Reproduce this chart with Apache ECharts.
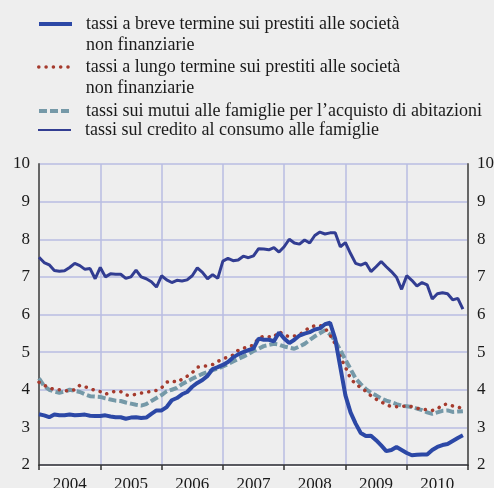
<!DOCTYPE html>
<html>
<head>
<meta charset="utf-8">
<script src="https://cdn.jsdelivr.net/npm/echarts@6/dist/echarts.min.js"></script>
<style>
  html, body { margin: 0; padding: 0; background: #eeeeee; }
  #chart { width: 494px; height: 488px; }
</style>
</head>
<body>
<div id="chart"></div>
<script>
  // anni sull'asse orizzontale (dati mensili gen 2004 - dic 2010)
  var years = ['2004', '2005', '2006', '2007', '2008', '2009', '2010'];

  var breve = [3.35, 3.32, 3.27, 3.34, 3.32, 3.32, 3.34, 3.32, 3.33, 3.34, 3.31, 3.30,
    3.30, 3.32, 3.29, 3.27, 3.27, 3.23, 3.26, 3.27, 3.25, 3.26, 3.36, 3.45,
    3.45, 3.54, 3.72, 3.78, 3.88, 3.94, 4.08, 4.18, 4.26, 4.37, 4.55, 4.60,
    4.66, 4.74, 4.86, 4.94, 5.00, 5.05, 5.10, 5.36, 5.33, 5.33, 5.29, 5.52,
    5.36, 5.24, 5.33, 5.44, 5.49, 5.53, 5.60, 5.63, 5.74, 5.78, 5.35, 4.60,
    3.85, 3.40, 3.10, 2.85, 2.77, 2.78, 2.66, 2.52, 2.37, 2.40, 2.48, 2.40,
    2.32, 2.26, 2.27, 2.28, 2.28, 2.40, 2.48, 2.53, 2.56, 2.64, 2.72, 2.79];

  var lungo = [4.20, 4.12, 4.05, 4.01, 4.00, 3.98, 3.97, 4.00, 4.12, 4.08, 4.03, 3.98,
    3.95, 3.88, 3.93, 3.96, 3.95, 3.86, 3.85, 3.88, 3.91, 3.93, 3.96, 3.98,
    4.05, 4.20, 4.24, 4.20, 4.28, 4.36, 4.45, 4.60, 4.62, 4.64, 4.67, 4.75,
    4.82, 4.87, 4.92, 5.05, 5.10, 5.15, 5.18, 5.38, 5.42, 5.41, 5.40, 5.55,
    5.46, 5.41, 5.43, 5.46, 5.56, 5.66, 5.70, 5.71, 5.64, 5.45, 5.22, 4.86,
    4.60, 4.30, 4.15, 4.06, 3.96, 3.84, 3.75, 3.68, 3.60, 3.55, 3.55, 3.56,
    3.57, 3.55, 3.51, 3.48, 3.47, 3.45, 3.49, 3.60, 3.62, 3.57, 3.54, 3.50];

  var mutui = [4.30, 4.10, 4.00, 3.95, 3.92, 3.95, 4.00, 3.97, 3.94, 3.88, 3.83, 3.82,
    3.81, 3.77, 3.74, 3.71, 3.70, 3.66, 3.63, 3.60, 3.58, 3.62, 3.70, 3.78,
    3.86, 3.96, 4.00, 4.05, 4.15, 4.22, 4.29, 4.36, 4.42, 4.47, 4.52, 4.56,
    4.62, 4.68, 4.75, 4.82, 4.88, 4.95, 5.03, 5.09, 5.16, 5.19, 5.22, 5.20,
    5.15, 5.12, 5.09, 5.15, 5.22, 5.32, 5.42, 5.50, 5.58, 5.47, 5.30, 5.05,
    4.80, 4.55, 4.30, 4.15, 4.02, 3.92, 3.85, 3.77, 3.71, 3.67, 3.62, 3.58,
    3.56, 3.54, 3.50, 3.46, 3.40, 3.36, 3.40, 3.44, 3.45, 3.41, 3.42, 3.43];

  var consumo = [7.52, 7.38, 7.32, 7.17, 7.15, 7.16, 7.25, 7.36, 7.30, 7.20, 7.22, 6.95,
    7.25, 7.00, 7.08, 7.07, 7.07, 6.96, 7.00, 7.18, 7.00, 6.95, 6.87, 6.73,
    7.03, 6.92, 6.85, 6.91, 6.89, 6.92, 7.03, 7.24, 7.12, 6.95, 7.06, 6.96,
    7.42, 7.49, 7.43, 7.45, 7.55, 7.51, 7.56, 7.75, 7.74, 7.72, 7.78, 7.66,
    7.80, 8.00, 7.90, 7.87, 7.98, 7.90, 8.10, 8.19, 8.14, 8.17, 8.17, 7.80,
    7.91, 7.62, 7.36, 7.31, 7.37, 7.14, 7.27, 7.41, 7.27, 7.14, 6.99, 6.67,
    7.03, 6.91, 6.76, 6.85, 6.79, 6.41, 6.55, 6.58, 6.55, 6.39, 6.43, 6.14];

  var names = [
    'tassi a breve termine sui prestiti alle società\nnon finanziarie',
    'tassi a lungo termine sui prestiti alle società\nnon finanziarie',
    'tassi sui mutui alle famiglie per l\u2019acquisto di abitazioni',
    'tassi sul credito al consumo alle famiglie'
  ];

  function toPoints(arr) {
    return arr.map(function (v, i) { return [i, v]; });
  }

  var serif = 'Liberation Serif, Times New Roman, serif';

  // una legenda per serie, così l'icona resta sulla prima riga del testo
  function makeLegend(name, top, twoLines, lineStyle) {
    return {
      left: 37,
      top: top,
      padding: 0,
      itemWidth: 33,
      itemHeight: 14,
      selectedMode: false,
      data: [name],
      lineStyle: lineStyle,
      itemStyle: {opacity: 0},
      formatter: function (n) {
        return twoLines ? '\n' + n : n;
      },
      textStyle: {
        fontFamily: serif,
        fontSize: 18,
        color: '#1a1a1a',
        lineHeight: 21,
        padding: [0, 0, 0, 9]
      }
    };
  }

  var myChart = echarts.init(document.getElementById('chart'));
  var option = {
    backgroundColor: '#eeeeee',
    animation: false,
    legend: [
      makeLegend(names[0], -7.5, true, {width: 4}),
      makeLegend(names[1], 35.5, true, {width: 3.5}),
      makeLegend(names[2], 100.5, false, {width: 4}),
      makeLegend(names[3], 119.5, false, {width: 2})
    ],
    grid: {
      left: 39,
      right: 26,
      top: 164,
      bottom: 23,
      outerBoundsMode: 'none'
    },
    xAxis: [{
      type: 'category',
      data: years,
      boundaryGap: true,
      axisLine: {lineStyle: {color: '#333', width: 1.5, shadowColor: '#ffffff', shadowOffsetY: 1.5}},
      axisTick: {show: true, length: 5, inside: false, lineStyle: {color: '#333', width: 1.5}},
      axisLabel: {fontFamily: serif, fontSize: 17, color: '#1a1a1a', margin: 11},
      splitLine: {show: true, interval: 0, lineStyle: {color: '#b9bde2', width: 1.5}}
    }, {
      type: 'value',
      min: 0,
      max: 84,
      show: false
    }],
    yAxis: [{
      type: 'value',
      min: 2,
      max: 10,
      interval: 1,
      position: 'left',
      axisLine: {show: true, lineStyle: {color: '#666', width: 2}},
      axisTick: {show: false},
      axisLabel: {fontFamily: serif, fontSize: 17, color: '#1a1a1a', margin: 9},
      splitLine: {show: true, lineStyle: {color: '#b9bde2', width: 1.5}}
    }, {
      type: 'value',
      min: 2,
      max: 10,
      interval: 1,
      position: 'right',
      axisLine: {show: true, lineStyle: {color: '#666', width: 2}},
      axisTick: {show: false},
      axisLabel: {fontFamily: serif, fontSize: 17, color: '#1a1a1a', margin: 9},
      splitLine: {show: false}
    }],
    series: [{
      name: names[2],
      type: 'line',
      xAxisIndex: 1,
      symbol: 'none',
      z: 2,
      data: toPoints(mutui),
      lineStyle: {color: '#7599a8', width: 4, type: [8, 3]},
      itemStyle: {color: '#7599a8'}
    }, {
      name: names[1],
      type: 'line',
      xAxisIndex: 1,
      symbol: 'none',
      z: 3,
      data: toPoints(lungo),
      lineStyle: {color: '#a53a2d', width: 3.5, type: [0.1, 7.2], cap: 'round'},
      itemStyle: {color: '#a53a2d'}
    }, {
      name: names[0],
      type: 'line',
      xAxisIndex: 1,
      symbol: 'none',
      z: 4,
      data: toPoints(breve),
      lineStyle: {color: '#2c48a6', width: 4},
      itemStyle: {color: '#2c48a6'}
    }, {
      name: names[3],
      type: 'line',
      xAxisIndex: 1,
      symbol: 'none',
      z: 4,
      data: toPoints(consumo),
      lineStyle: {color: '#323d92', width: 3},
      itemStyle: {color: '#323d92'}
    }]
  };
  myChart.setOption(option);
</script>
</body>
</html>
